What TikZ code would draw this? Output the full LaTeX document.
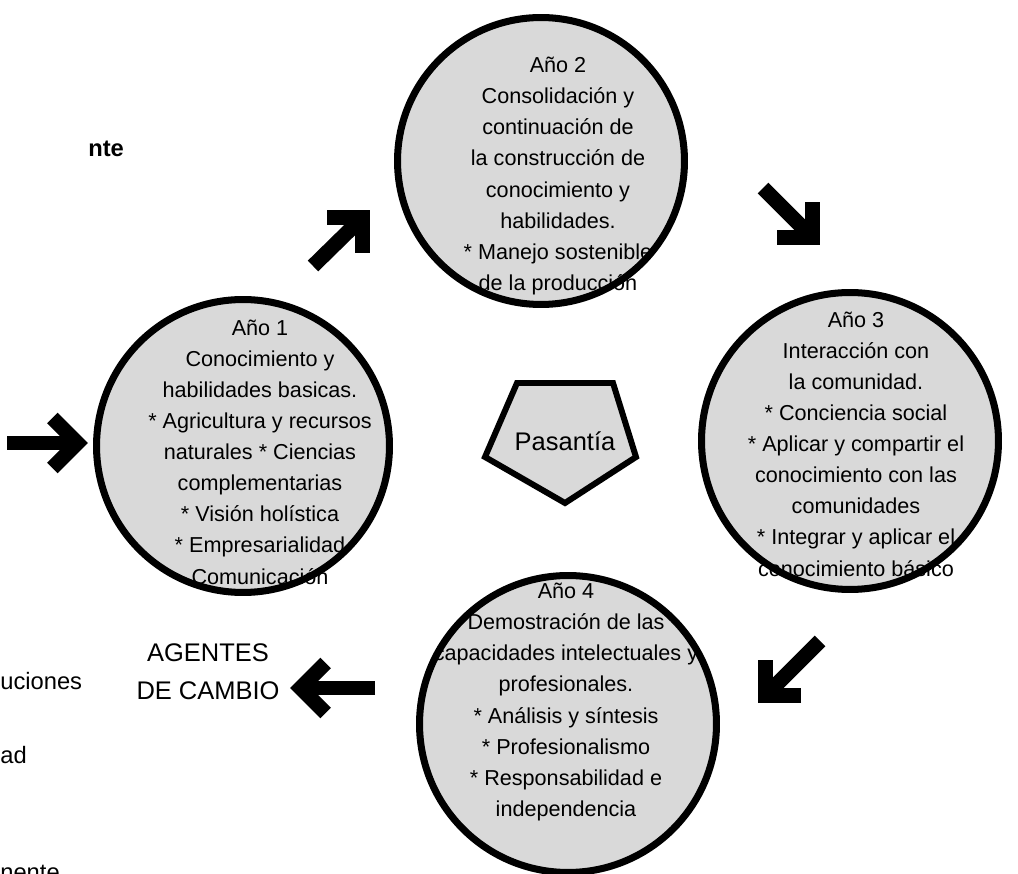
\documentclass[tikz,border=0pt]{standalone}
\usepackage{fontspec}
\setmainfont{Liberation Sans}
\usetikzlibrary{calc}
\definecolor{ringgray}{HTML}{D9D9D9}
\tikzset{
  ring/.style={circle, draw, line width=4pt, fill=ringgray, inner sep=0pt, minimum size=#1},
  yeartext/.style={align=center, font=\fontsize{12.3}{17.7}\selectfont},
  bigtext/.style={align=center, font=\fontsize{14.5}{21.5}\selectfont},
  cuttext/.style={anchor=base west, inner sep=0pt, font=\fontsize{13.5}{17.6}\selectfont},
  blk/.style={line width=8.5pt, miter limit=4, line join=miter}
}
\begin{document}
\begin{tikzpicture}[x=0.02cm,y=-0.02cm]
      \useasboundingbox (0,0) rectangle (1018,874);
      \clip (0,0) rectangle (1018,874);
      \node[ring=5.86cm] (y1) at (243,446) {};
      \node[ring=5.74cm] (y2) at (541,161) {};
      \node[ring=5.94cm] (y3) at (850,441) {};
      \node[ring=5.94cm] (y4) at (568,724) {};
      \node[yeartext] (t1) at (260,452) {Año 1\\Conocimiento y\\habilidades basicas.\\* Agricultura y recursos\\naturales * Ciencias\\complementarias\\* Visión holística\\* Empresarialidad\\Comunicación};
      \node[yeartext] (t2) at (558,176) {Año 2\\Consolidación y\\continuación de\\la construcción de\\conocimiento y\\habilidades.\\* Manejo sostenible\\de la producción};
      \node[yeartext] (t3) at (856,444) {Año 3\\Interacción con\\la comunidad.\\* Conciencia social\\* Aplicar y compartir el\\conocimiento con las\\comunidades\\* Integrar y aplicar el\\conocimiento básico};
      \node[yeartext] (t4) at (566,702) {Año 4\\Demostración de las\\capacidades intelectuales y\\profesionales.\\* Análisis y síntesis\\* Profesionalismo\\* Responsabilidad e\\independencia};
      \draw[line width=3.4pt, line join=miter, fill=ringgray] (517,383) -- (613,383) -- (636,457) -- (565,503) -- (485,457) -- cycle;
      \node[bigtext] (pas) at (565,441) {Pasantía};
      \node[bigtext] (agentes) at (208,672) {AGENTES\\DE CAMBIO};
      \foreach \sx/\sy/\tx/\ty/\ax/\ay/\bx/\by in {
          7/443/77.4/443/-25/-25/-25/25,
          313/266/362.5/217.5/-35.5/0/0/35.5,
          763/188/812.5/237.5/-35.5/0/0/-35.5,
          820/641/765.5/695.5/35.5/0/0/-35.5,
          375/688/300.6/688/25/-25/25/25} {
          \coordinate (s) at (\sx,\sy);
          \coordinate (t) at (\tx,\ty);
          \draw[blk] (s) -- (t);
          \draw[blk] ($(t)+(\ax,\ay)$) -- (t) -- ($(t)+(\bx,\by)$);
        }
      \node[cuttext, font=\fontsize{13.5}{17.6}\selectfont\bfseries] (cut0) at (88,157) {nte};
      \node[cuttext] (cut1) at (0,689) {uciones};
      \node[cuttext] (cut2) at (0,763) {ad};
      \node[cuttext] (cut3) at (0,880) {nente};
    \end{tikzpicture}
\end{document}
